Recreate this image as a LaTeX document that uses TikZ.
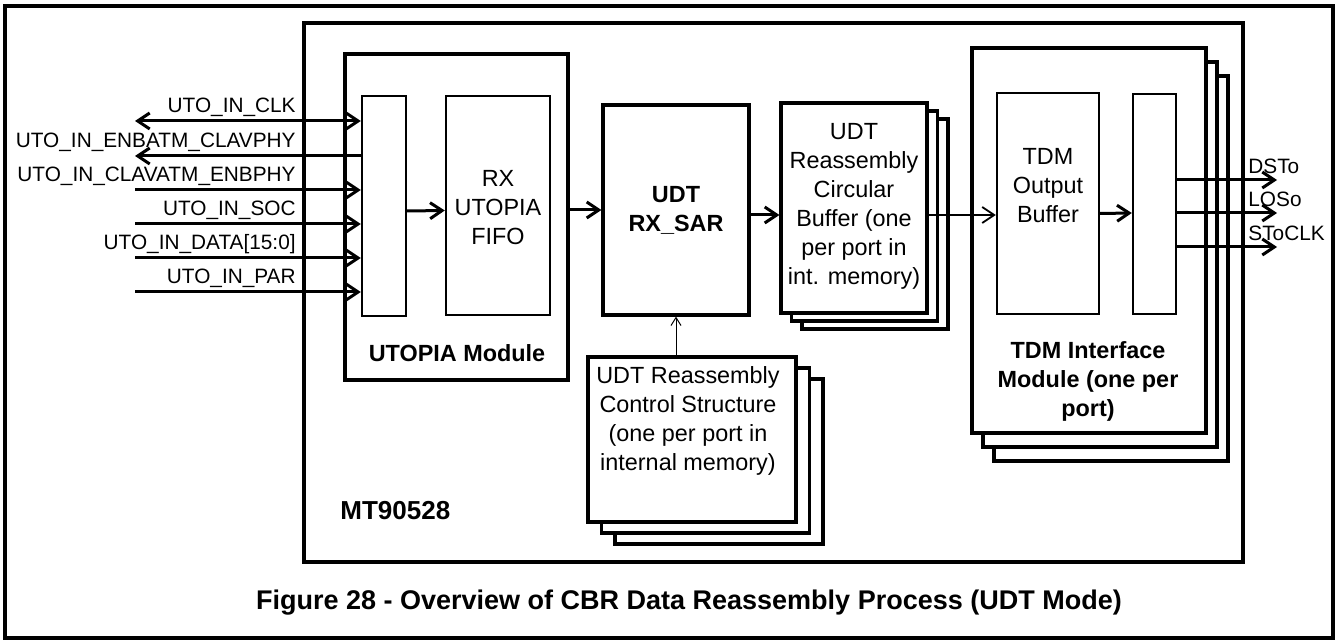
\documentclass[tikz,border=0pt]{standalone}
\usepackage{fontspec}
\setmainfont{Liberation Sans}
\usetikzlibrary{positioning}
\usetikzlibrary{arrows.meta}
\usetikzlibrary{calc}
\usetikzlibrary{fit}
\usetikzlibrary{shadows}

\begin{document}
\begin{tikzpicture}[x=0.5pt, y=-0.5pt,
    >={Straight Barb[length=6pt,width=8pt]},
    frame/.style={draw, line width=1.8pt, inner sep=0pt},
    box/.style={draw, line width=1.6pt, fill=white, inner sep=0pt},
    inbox/.style={draw, line width=1.2pt, fill=white, inner sep=0pt},
    txt/.style={font=\fontsize{11.7}{14.5}\selectfont, align=center},
    btxt/.style={font=\fontsize{11.7}{14.5}\selectfont\bfseries, align=center, inner sep=0pt},
    siglbl/.style={font=\fontsize{10.4}{12}\selectfont, inner sep=0pt},
    sig/.style={line width=1.5pt}]
  \useasboundingbox (0,0) rectangle (1340,641);

  % frames
  \node[frame, fit={(5,6) (1333,638)}] (page) {};
  \node[box, fit={(304,23) (1243,562)}] (mt) {};
  \node[btxt, font=\fontsize{13}{15}\selectfont\bfseries, anchor=base west] (mtlbl) at (340,520) {MT90528};
  \node[btxt, font=\fontsize{13.5}{15}\selectfont\bfseries, anchor=base] (caption) at (689,610)
        {Figure 28 - Overview of CBR Data Reassembly Process (UDT Mode)};

  % UTOPIA module
  \node[box, fit={(345,54) (568,380)}] (utopia) {};
  \node[inbox, fit={(362,96) (406,316)}] (uif) {};
  \node[inbox, fit={(446,96) (550,315)}] (fifo) {};
  \node[txt, inner sep=0pt] (fifolbl) at (498,208) {RX\\UTOPIA\\FIFO};
  \node[btxt, anchor=base] (utopialbl) at (457,362) {UTOPIA Module};

  % SAR and memories
  \node[box, fit={(603,105) (749,315)}] (rxsar) {};
  \node[btxt] (rxsarlbl) at (676,210) {UDT\\RX\_SAR};
  \node[box, double copy shadow={shadow xshift=5.25pt, shadow yshift=-4pt},
        fit={(781,103) (927,313)}] (circbuf) {};
  \node[txt, inner sep=0pt] (circbuflbl) at (854,206)
        {UDT\\Reassembly\\Circular\\Buffer (one\\per port in\\int. memory)};
  \node[box, double copy shadow={shadow xshift=6.75pt, shadow yshift=-5.5pt},
        fit={(588,357) (796,522)}] (ctrl) {};
  \node[txt, inner sep=0pt] (ctrllbl) at (688,421)
        {UDT Reassembly\\Control Structure\\(one per port in\\internal memory)};

  % TDM interface
  \node[box, double copy shadow={shadow xshift=5.5pt, shadow yshift=-7pt},
        fit={(972,48) (1206,433)}] (tdm) {};
  \node[inbox, fit={(997,93) (1099,314)}] (tdmbuf) {};
  \node[txt, inner sep=0pt] (tdmbuflbl) at (1048,186) {TDM\\Output\\Buffer};
  \node[inbox, fit={(1133,94) (1176,314)}] (tif) {};
  \node[btxt] (tdmlbl) at (1088,381) {TDM Interface\\Module (one per\\port)};

  % UTOPIA side signals
  \foreach \i/\y/\n/\a in {1/121/{UTO\_IN\_CLK}/<->,
                          2/156/{UTO\_IN\_ENBATM\_CLAVPHY}/<-,
                          3/190/{UTO\_IN\_CLAVATM\_ENBPHY}/->,
                          4/224/{UTO\_IN\_SOC}/->,
                          5/258/{UTO\_IN\_DATA[15:0]}/->,
                          6/292/{UTO\_IN\_PAR}/->} {
    \coordinate (s\i) at (135,\y);
    \node[siglbl, anchor=base east] (sl\i) at (296,\y-8) {\n};
    \draw[sig,\a] (s\i) -- (s\i -| uif.west);
  }

  % TDM side signals
  \foreach \i/\y/\n in {1/180/DSTo, 2/213/LOSo, 3/247/SToCLK} {
    \coordinate (o\i) at (1277,\y);
    \node[siglbl, anchor=base west] (ol\i) at (1248,\y-6) {\n};
    \draw[sig,->] (o\i -| tif.east) -- (o\i);
  }

  % data path
  \draw[sig,->] ($(uif.east)+(0,5)$) -- ($(fifo.west)+(0,5)$);
  \draw[sig,->] (utopia.east |- rxsar) -- (rxsar);
  \draw[sig,->] ($(rxsar.east)+(0,5)$) -- ($(rxsar.east -| circbuf.west)+(0,5)$);
  \draw[line width=0.9pt,->] ($(circbuf.east)+(0,7)$) -- ($(circbuf.east -| tdmbuf.west)+(0,7)$);
  \draw[sig,->] ($(tdmbuf.east)+(0,10)$) -- ($(tif.west)+(0,9)$);
  \draw[line width=0.5pt,-{Straight Barb[length=4pt,width=5pt]}] (ctrl.north -| rxsar.south) -- (rxsar.south);
\end{tikzpicture}
\end{document}
